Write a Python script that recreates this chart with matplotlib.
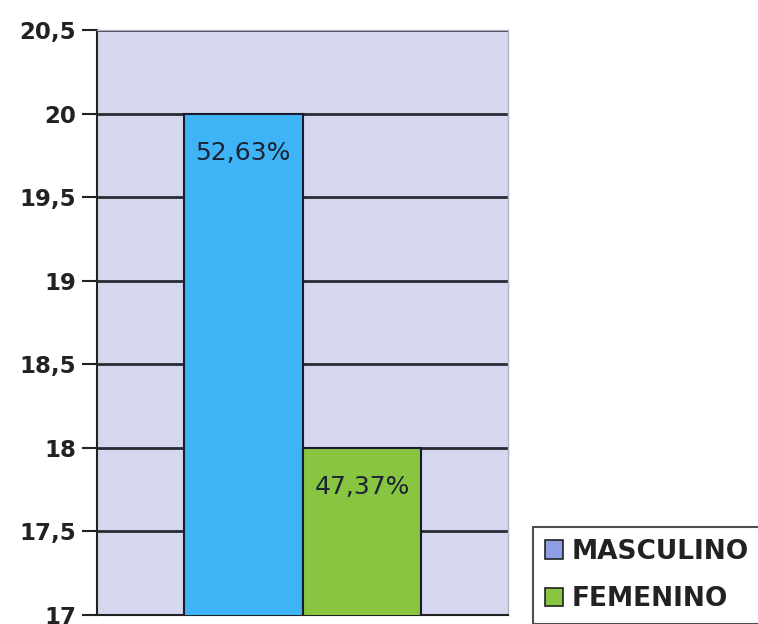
import matplotlib
matplotlib.use("Agg")
import matplotlib.pyplot as plt
from matplotlib.patches import Patch

series = ["MASCULINO", "FEMENINO"]
values = [20.0, 18.0]
labels = ["52,63%", "47,37%"]
bar_colors = ["#3eb4f7", "#88c540"]
legend_colors = ["#8f9ee3", "#88c540"]
yticks = [17, 17.5, 18, 18.5, 19, 19.5, 20, 20.5]
ytick_labels = ["17", "17,5", "18", "18,5", "19", "19,5", "20", "20,5"]

plt.rcParams['font.family'] = ['DejaVu Sans']

fig = plt.figure(figsize=(7.58, 6.24), dpi=100)
ax = fig.add_axes([97/758, 1-615/624, (508-97)/758, (615-30)/624])
ax.set_facecolor("#d5d7ee")

xpos = [-0.5, 0.5]
bars = ax.bar(xpos, values, width=1.0, color=bar_colors, edgecolor="#1a1a2a",
              linewidth=1.5, zorder=3)
ax.set_xlim(-1.727, 1.727)
ax.set_ylim(17, 20.5)
ax.set_yticks(yticks)
ax.set_yticklabels(ytick_labels, fontsize=16.5, fontweight='bold', color="#222222")
ax.set_xticks([])
ax.tick_params(axis='y', length=11, width=1.5, color="#222222", pad=4)
ax.yaxis.grid(True, color="#2a2a33", linewidth=2, zorder=1)
ax.set_axisbelow(True)

for s in ['top', 'right']:
    ax.spines[s].set_color("#b0b3c8")
    ax.spines[s].set_linewidth(1)
ax.spines['left'].set_color("#222222")
ax.spines['left'].set_linewidth(1.5)
ax.spines['bottom'].set_color("#222222")
ax.spines['bottom'].set_linewidth(1.5)

for b, v, lab in zip(bars, values, labels):
    ax.text(b.get_x() + b.get_width()/2, v - 0.235, lab, ha='center', va='center',
            fontsize=18, color="#1c2433", zorder=5)

handles = [Patch(facecolor=c, edgecolor="#222222", linewidth=1.2, label=s)
           for c, s in zip(legend_colors, series)]
leg = fig.legend(handles=handles, loc='upper left',
                 bbox_to_anchor=(533/758, 1-527/624, 250/758, 0.0), mode='expand',
                 frameon=True, fancybox=False, edgecolor="#222222",
                 prop={'size': 19, 'weight': 'bold'},
                 handlelength=0.7, handleheight=0.7, handletextpad=0.3,
                 borderpad=0.45, labelspacing=0.8, borderaxespad=0)
leg.get_frame().set_linewidth(1.5)
for t in leg.get_texts():
    t.set_color("#222222")

fig.savefig("out.png", dpi=100)
